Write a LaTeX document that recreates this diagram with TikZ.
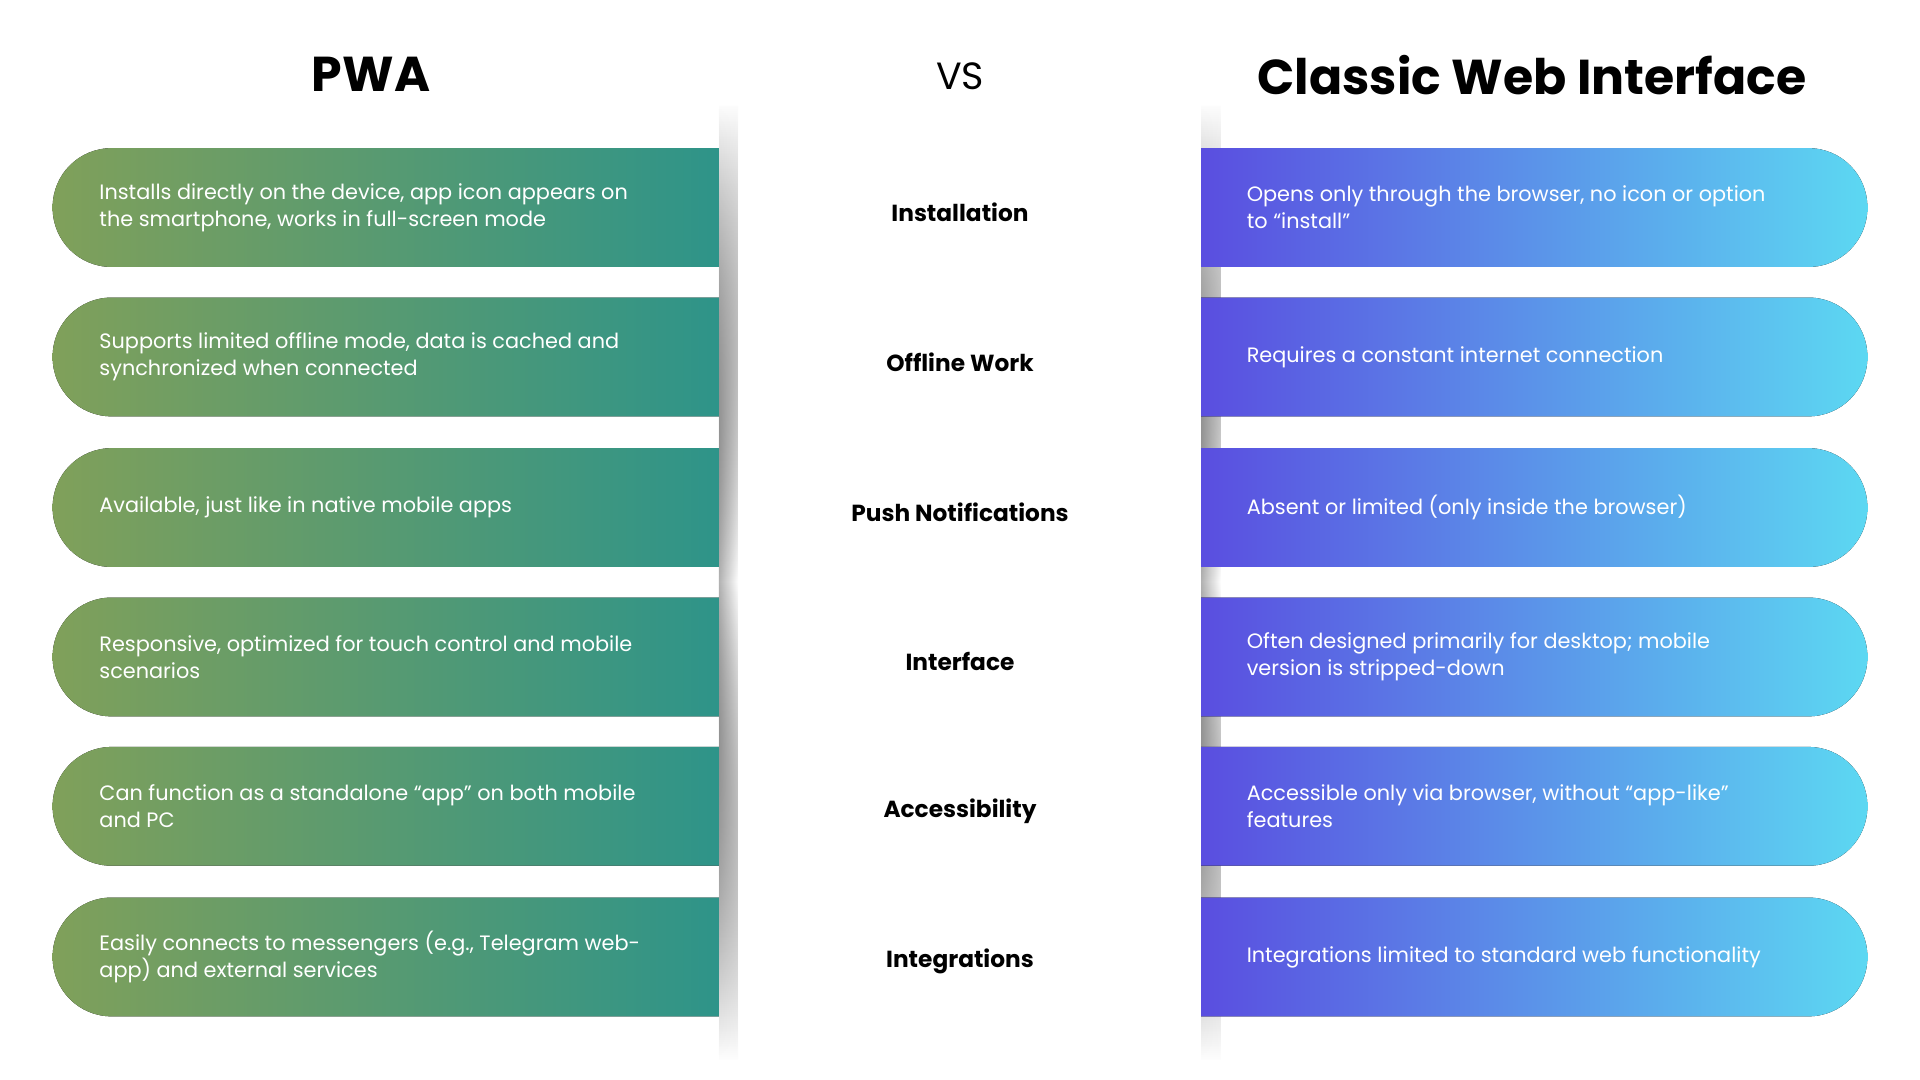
\documentclass[tikz,border=0pt]{standalone}
\usepackage{fontspec}
\setmainfont{Poppins}
\usetikzlibrary{fadings}
\definecolor{gA}{HTML}{80A05A}
\definecolor{gB}{HTML}{2E9489}
\definecolor{bA}{HTML}{5A4EE0}
\definecolor{bB}{HTML}{5CD8F2}
\tikzfading[name=vfade, top color=transparent!100, bottom color=transparent!100, middle color=transparent!0]
\tikzset{
  body/.style={text=white, font=\fontsize{17}{22}\selectfont, anchor=west, align=left, inner sep=0pt},
  mid/.style={font=\fontsize{19}{23}\selectfont\bfseries, inner sep=0pt},
  lbox/.style={left color=gA, right color=gB},
  rbox/.style={left color=bA, right color=bB},
  shade/.style={left color=black!30, right color=white, path fading=vfade}
}
\begin{document}
\begin{tikzpicture}[x=1pt,y=-1pt]
\fill[white] (0,0) rectangle (1568,882);
\useasboundingbox (0,0) rectangle (1568,882);
\fill[shade] (587,85) rectangle (603,865);
\fill[shade] (981,85) rectangle (997,865);
\node[font=\fontsize{40}{44}\selectfont\bfseries] (t1) at (303,61) {PWA};
\node[font=\fontsize{31}{36}\selectfont] (vs) at (784,62) {VS};
\node[font=\fontsize{40}{44}\selectfont\bfseries] (t2) at (1251,61) {Classic Web Interface};
\foreach \i/\t/\lt/\ct/\rt in {
 0/121/{Installs directly on the device, app icon appears on\\the smartphone, works in full-screen mode}/Installation/{Opens only through the browser, no icon or option\\to “install”},
 1/243/{Supports limited offline mode, data is cached and\\synchronized when connected}/Offline Work/{Requires a constant internet connection},
 2/366/{Available, just like in native mobile apps}/Push Notifications/{Absent or limited (only inside the browser)},
 3/488/{Responsive, optimized for touch control and mobile\\scenarios}/Interface/{Often designed primarily for desktop; mobile\\version is stripped-down},
 4/610/{Can function as a standalone “app” on both mobile\\and PC}/Accessibility/{Accessible only via browser, without “app-like”\\features},
 5/733/{Easily connects to messengers (e.g., Telegram web-\\app) and external services}/Integrations/{Integrations limited to standard web functionality}}{
  \pgfmathsetmacro\b{\t+97}
  \pgfmathsetmacro\c{\t+48.5}
  \fill[lbox, rounded corners=48] (587,\t) -- (43,\t) -- (43,\b) [sharp corners] -- (587,\b) -- cycle;
  \fill[rbox, rounded corners=48] (981,\b) -- (1525,\b) -- (1525,\t) [sharp corners] -- (981,\t) -- cycle;
  \node[body] (l\i) at (81,\c) {\lt};
  \node[mid] (m\i) at (784,\c+4) {\ct};
  \node[body] (r\i) at (1018,\c) {\rt};
}
\end{tikzpicture}
\end{document}
